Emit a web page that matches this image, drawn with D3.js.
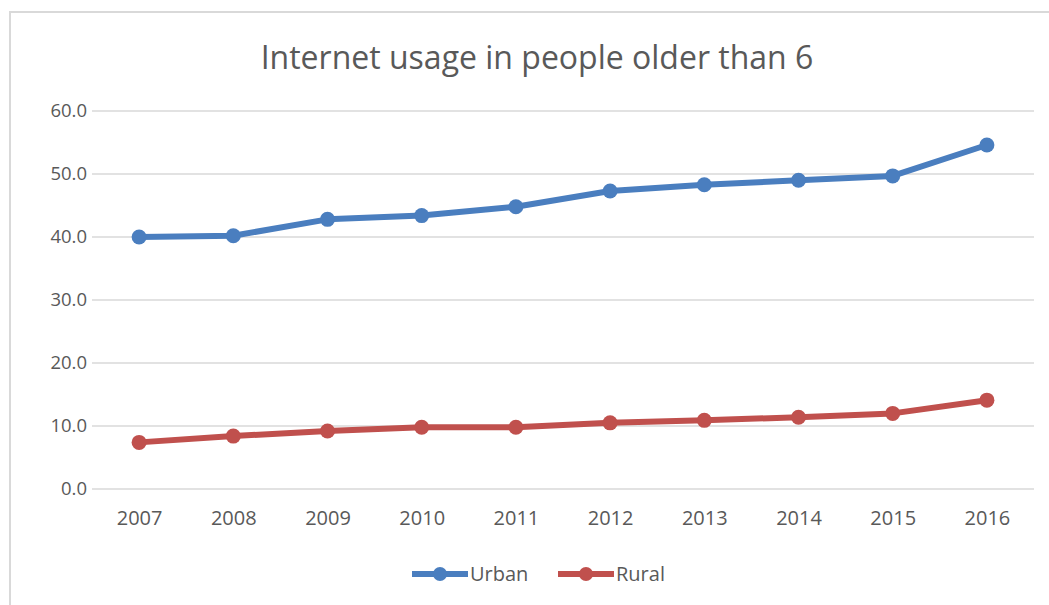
<!DOCTYPE html>
<html>
<head>
<meta charset="utf-8">
<script src="https://cdn.jsdelivr.net/npm/d3@7"></script>
<style>
  body { margin: 0; background: #fff; }
  svg { display: block; font-family: "Open Sans", "Noto Sans", sans-serif; }
</style>
</head>
<body>
<script>
// Data
const years = ["2007", "2008", "2009", "2010", "2011", "2012", "2013", "2014", "2015", "2016"];
const urban = [40.0, 40.2, 42.8, 43.4, 44.8, 47.3, 48.3, 49.0, 49.7, 54.6];
const rural = [7.4, 8.4, 9.2, 9.8, 9.8, 10.5, 10.9, 11.4, 12.0, 14.1];
const yTicks = [0, 10, 20, 30, 40, 50, 60];
const seriesNames = ["Urban", "Rural"];
const colors = ["#4a7ebf", "#c0504d"];

const width = 1049, height = 605;
const margin = { top: 111, right: 15, bottom: 116, left: 92 },
    graphWidth = 1034 - margin.left,
    graphHeight = 489 - margin.top;

const svg = d3.select("body").append("svg")
    .attr("width", width)
    .attr("height", height);

// chart frame
svg.append("rect")
    .attr("x", 10).attr("y", 12)
    .attr("width", width + 10).attr("height", height + 10)
    .attr("fill", "#fff")
    .attr("stroke", "#d9d9d9")
    .attr("stroke-width", 2);

// title
svg.append("text")
    .attr("x", 537).attr("y", 69)
    .attr("text-anchor", "middle")
    .attr("fill", "#595959")
    .style("font-size", "32px")
    .text("Internet usage in people older than 6");

const graph = svg.append("g")
    .attr("transform", `translate(${margin.left}, ${margin.top})`);

const x = d3.scalePoint().domain(years).range([0, graphWidth]).padding(0.5);
const y = d3.scaleLinear().domain([0, 60]).range([graphHeight, 0]);

// gridlines
graph.append("g")
    .selectAll("line")
    .data(yTicks)
    .join("line")
    .attr("x1", 0).attr("x2", graphWidth)
    .attr("y1", d => y(d)).attr("y2", d => y(d))
    .attr("stroke", "#d9d9d9")
    .attr("stroke-width", 1.5);

// y axis
const yAxis = d3.axisLeft(y).tickValues(yTicks).tickFormat(d3.format(".1f")).tickSize(0).tickPadding(5);
const yAxisGroup = graph.append("g").call(yAxis);
yAxisGroup.select(".domain").remove();
yAxisGroup.selectAll("text")
    .attr("fill", "#595959")
    .style("font-size", "18.5px")
    .style("font-family", "Open Sans, sans-serif");

// x axis
const xAxis = d3.axisBottom(x).tickSize(0).tickPadding(22);
const xAxisGroup = graph.append("g")
    .attr("transform", `translate(0, ${graphHeight})`)
    .call(xAxis);
xAxisGroup.select(".domain").remove();
xAxisGroup.selectAll("text")
    .attr("fill", "#595959")
    .style("font-size", "20px")
    .style("font-family", "Open Sans, sans-serif");

// lines
const line = d3.line()
    .x((d, i) => x(years[i]))
    .y(d => y(d));

[urban, rural].forEach((values, k) => {
    graph.append("path")
        .datum(values)
        .attr("fill", "none")
        .attr("stroke", colors[k])
        .attr("stroke-width", 6)
        .attr("stroke-linejoin", "round")
        .attr("d", line);
    graph.append("g")
        .selectAll("circle")
        .data(values)
        .join("circle")
        .attr("cx", (d, i) => x(years[i]))
        .attr("cy", d => y(d))
        .attr("r", 7.5)
        .attr("fill", colors[k]);
});

// legend
const legendX = [412, 558];
const legend = svg.append("g").attr("transform", "translate(0, 574)");
seriesNames.forEach((name, k) => {
    const g = legend.append("g").attr("transform", `translate(${legendX[k]}, 0)`);
    g.append("line")
        .attr("x1", 0).attr("x2", 56)
        .attr("stroke", colors[k])
        .attr("stroke-width", 6);
    g.append("circle")
        .attr("cx", 28).attr("r", 7)
        .attr("fill", colors[k]);
    g.append("text")
        .attr("x", 58).attr("y", 7)
        .attr("fill", "#595959")
        .style("font-size", "20px")
        .text(name);
});
</script>
</body>
</html>
